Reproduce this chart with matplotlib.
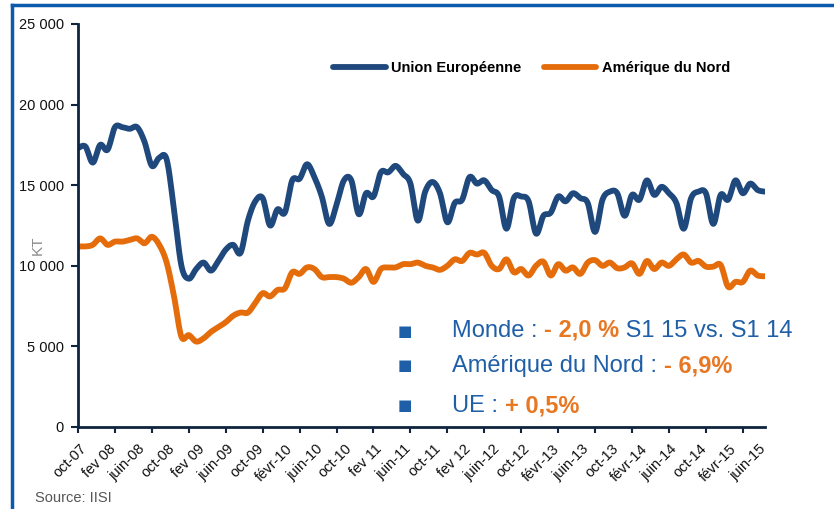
import numpy as np
import matplotlib
matplotlib.use("Agg")
import matplotlib.pyplot as plt
import matplotlib.transforms as mtransforms
from matplotlib.lines import Line2D

plt.rcParams['font.family'] = ['Liberation Sans', 'DejaVu Sans']

# ---------------- data ----------------
months = ["oct-07", "fev 08", "juin-08", "oct-08", "fev 09", "juin-09", "oct-09",
          "févr-10", "juin-10", "oct-10", "fev 11", "juin-11", "oct-11", "fev 12",
          "juin-12", "oct-12", "févr-13", "juin-13", "oct-13", "févr-14", "juin-14",
          "oct-14", "févr-15", "juin-15"]

ue = [17300, 17400, 16400, 17500, 17200, 18600, 18600, 18500, 18600, 17700,
      16200, 16700, 16600, 13500, 10000, 9200, 9800, 10200, 9700, 10300,
      11000, 11300, 10800, 12800, 14000, 14200, 12500, 13500, 13300, 15300,
      15400, 16300, 15500, 14300, 12600, 13800, 15300, 15300, 13200, 14500,
      14300, 15800, 15800, 16200, 15700, 15100, 12800, 14600, 15200, 14500,
      12700, 13900, 14100, 15500, 15100, 15300, 14700, 14300, 12300, 14200,
      14300, 14000, 12000, 13100, 13300, 14300, 14000, 14500, 14200, 13900,
      12100, 14100, 14600, 14500, 13100, 14400, 14100, 15300, 14400, 14900,
      14500, 13900, 12300, 14200, 14600, 14500, 12600, 14400, 14100, 15300,
      14500, 15100, 14700, 14600]

amn = [11200, 11200, 11300, 11700, 11300, 11500, 11500, 11600, 11700, 11400,
       11800, 11300, 10200, 8100, 5600, 5700, 5300, 5500, 5900, 6200,
       6500, 6900, 7100, 7100, 7700, 8300, 8100, 8500, 8600, 9600,
       9500, 9900, 9800, 9300, 9300, 9300, 9200, 8950, 9300, 9800,
       9000, 9800, 9900, 9900, 10100, 10100, 10200, 10000, 9900, 9750,
       10000, 10400, 10300, 10800, 10700, 10800, 10000, 9800, 10400, 9600,
       9800, 9400, 10000, 10250, 9400, 10100, 9700, 9900, 9500, 10200,
       10350, 10000, 10200, 9850, 9900, 10150, 9500, 10300, 9800, 10200,
       10000, 10400, 10700, 10200, 10300, 9950, 9950, 10050, 8700, 9000,
       9000, 9700, 9400, 9350]

yticks = [0, 5000, 10000, 15000, 20000, 25000]
ytick_labels = ["0", "5 000", "10 000", "15 000", "20 000", "25 000"]

series_names = ["Union Européenne", "Amérique du Nord"]

BLUE = "#1F497D"
ORANGE = "#E46C0A"
TXT_BLUE = "#1F5FA8"
TXT_ORANGE = "#E87722"
AXIS = "#0F243E"


def smooth(y, n=12):
    """Catmull-Rom smoothing of the series (like Excel smoothed lines)."""
    y = np.asarray(y, float)
    x = np.arange(len(y), dtype=float)
    P = np.vstack([x, y]).T
    P = np.vstack([P[0], P, P[-1]])
    out = []
    t = np.linspace(0, 1, n, endpoint=False)[:, None]
    for i in range(1, len(P) - 2):
        p0, p1, p2, p3 = P[i - 1], P[i], P[i + 1], P[i + 2]
        seg = 0.5 * ((2 * p1) + (-p0 + p2) * t + (2 * p0 - 5 * p1 + 4 * p2 - p3) * t ** 2
                     + (-p0 + 3 * p1 - 3 * p2 + p3) * t ** 3)
        out.append(seg)
    out.append(P[-2][None, :])
    out = np.vstack(out)
    return out[:, 0], out[:, 1]


W, H = 834, 509
fig = plt.figure(figsize=(W / 100, H / 100), dpi=100)
ax = fig.add_axes([78 / W, (H - 427) / H, (765 - 78) / W, (427 - 24) / H])

sx, sy = smooth(ue)
ax.plot(sx, sy, color=BLUE, lw=4.2, solid_capstyle='round', solid_joinstyle='round',
        label=series_names[0])
sx, sy = smooth(amn)
ax.plot(sx, sy, color=ORANGE, lw=4.2, solid_capstyle='round', solid_joinstyle='round',
        label=series_names[1])

n = len(ue)
ax.set_xlim(0, n - 1)
ax.set_ylim(0, 25000)
ax.set_yticks(yticks)
ax.set_yticklabels(ytick_labels, fontsize=10.5, color="#111111")

# tick marks every 5 months, labels every 4 months
ax.xaxis.remove_overlapping_locs = False
ax.set_xticks(np.arange(0, n - 1, 5))
ax.set_xticklabels([])
ax.set_xticks(np.arange(0, 4 * len(months), 4), minor=True)
ax.set_xticklabels(months, minor=True, rotation=45, ha='right', va='center',
                   rotation_mode='anchor', fontsize=10.5, color="#111111")
ax.tick_params(axis='x', which='minor', length=0, pad=14)
ax.tick_params(axis='x', which='major', length=4, width=1.5, color=AXIS, direction='out')
ax.tick_params(axis='y', length=5, width=1.5, color=AXIS, direction='out', pad=5)
shift = mtransforms.ScaledTranslation(6 / 100, 0, fig.dpi_scale_trans)
for lab in ax.get_xticklabels(minor=True):
    lab.set_transform(lab.get_transform() + shift)

for s in ['top', 'right']:
    ax.spines[s].set_visible(False)
for s in ['left', 'bottom']:
    ax.spines[s].set_color(AXIS)
    ax.spines[s].set_linewidth(2)

ax.set_ylabel("KT", color="#8C8C8C", fontsize=11)
ax.yaxis.set_label_coords(-0.048, 0.452)

leg = ax.legend(loc='upper left', ncol=2, frameon=False, handlelength=3.6,
                handletextpad=0.4, columnspacing=1.5,
                prop={'weight': 'bold', 'size': 10.5})
leg.set_bbox_to_anchor((320 / W, 1 - 48 / H), transform=fig.transFigure)

# annotation block
def rich_line(x, y, parts, size=17):
    t = fig.text(x / W, 1 - y / H, parts[0][0], color=parts[0][1],
                 fontweight=parts[0][2], fontsize=size, va='baseline', ha='left')
    prev = t
    for txt, col, wt in parts[1:]:
        prev = ax.annotate(txt, xycoords=prev, xy=(1, 0), va='bottom', ha='left',
                           color=col, fontweight=wt, fontsize=size)
    return t

lines = [
    ([("Monde : ", TXT_BLUE, 'normal'), ("- 2,0 %", TXT_ORANGE, 'bold'),
      (" S1 15 vs. S1 14", TXT_BLUE, 'normal')], 337),
    ([("Amérique du Nord : ", TXT_BLUE, 'normal'), ("- 6,9%", TXT_ORANGE, 'bold')], 372),
    ([("UE : ", TXT_BLUE, 'normal'), ("+ 0,5%", TXT_ORANGE, 'bold')], 412),
]
for parts, yb in lines:
    rich_line(452, yb, parts)
    fig.text(405 / W, 1 - (yb - 6) / H, "■", color=TXT_BLUE, fontsize=11,
             ha='center', va='center', family='DejaVu Sans')

fig.text(35 / W, 1 - 498 / H, "Source: IISI", color="#555555", fontsize=10.5,
         va='center', ha='left')

# slide frame (top and left blue border)
fig.add_artist(Line2D([12 / W, 1.0], [1 - 5 / H, 1 - 5 / H], color="#0B5AAB", lw=2.5,
                      transform=fig.transFigure))
fig.add_artist(Line2D([12 / W, 12 / W], [0, 1 - 5 / H], color="#0B5AAB", lw=2.5,
                      transform=fig.transFigure))

fig.savefig("out.png", dpi=100)
